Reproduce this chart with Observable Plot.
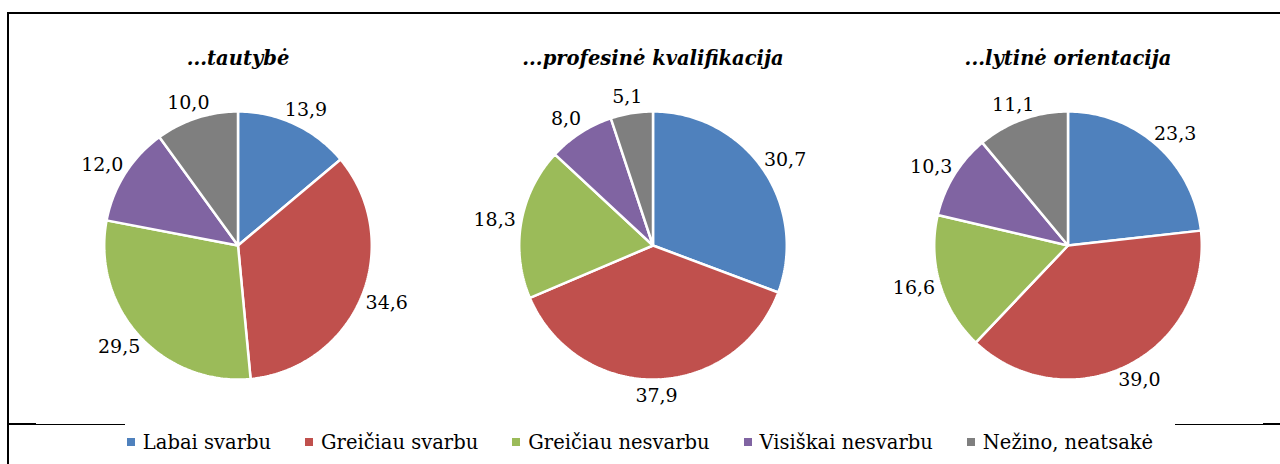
<!DOCTYPE html>
<html>
<head>
<meta charset="utf-8">
<script src="https://cdn.jsdelivr.net/npm/d3@7"></script>
<script src="https://cdn.jsdelivr.net/npm/@observablehq/plot@0.6"></script>
<style>
  html, body { margin: 0; padding: 0; background: #fff; }
  #wrap { position: relative; width: 1280px; height: 464px; overflow: hidden; font-family: "DejaVu Serif", serif; }
  .ln { position: absolute; background: #000; }
  #legend { position: absolute; left: 0; top: 425px; width: 1280px; height: 34px; display: flex; justify-content: center; align-items: center; font-size: 19.5px; color: #000; }
  #legend .item { display: flex; align-items: center; margin: 0 17px; white-space: nowrap; }
  #legend .sw { width: 8px; height: 8px; margin-right: 8px; }
  #chart { position: absolute; left: 0; top: 0; }
</style>
</head>
<body>
<div id="wrap">
  <div id="chart"></div>
  <div class="ln" style="left:7px;top:12px;width:2px;height:452px"></div>
  <div class="ln" style="left:7px;top:12px;width:1273px;height:2px"></div>
  <div class="ln" style="left:7px;top:423px;width:29px;height:2px"></div>
  <div class="ln" style="left:36px;top:424px;width:89px;height:1px"></div>
  <div class="ln" style="left:1175px;top:424px;width:88px;height:1px"></div>
  <div class="ln" style="left:1263px;top:423px;width:17px;height:2px"></div>
  <div id="legend"></div>
</div>
<script>
const categories = ["Labai svarbu", "Greičiau svarbu", "Greičiau nesvarbu", "Visiškai nesvarbu", "Nežino, neatsakė"];
const charts = ["...tautybė", "...profesinė kvalifikacija", "...lytinė orientacija"];
const tautybe = [13.9, 34.6, 29.5, 12.0, 10.0];
const profesine = [30.7, 37.9, 18.3, 8.0, 5.1];
const lytine = [23.3, 39.0, 16.6, 10.3, 11.1];
const colors = ["#4F81BD", "#C0504D", "#9BBB59", "#8064A2", "#7F7F7F"];

const seriesByChart = [tautybe, profesine, lytine];

// Build slice polygons (unit circle, clockwise from 12 o'clock) and label anchors
const slicePts = [];
const labels = [];
const titles = charts.map(c => ({chart: c}));
const R = 1.0;
const pxUnit = 134; // pixels per data unit (for text box estimates)
const gap = 6 / pxUnit, boxW = 42 / pxUnit, boxH = 20 / pxUnit;
seriesByChart.forEach((vals, ci) => {
  const total = d3.sum(vals);
  let cum = 0;
  vals.forEach((v, k) => {
    const a0 = cum / total * 2 * Math.PI;
    const a1 = (cum + v) / total * 2 * Math.PI;
    cum += v;
    const key = charts[ci] + "|" + categories[k];
    const n = Math.max(2, Math.ceil((a1 - a0) / (Math.PI / 180)));
    slicePts.push({chart: charts[ci], cat: categories[k], key, x: 0, y: 0});
    for (let i = 0; i <= n; i++) {
      const a = a0 + (a1 - a0) * i / n;
      slicePts.push({chart: charts[ci], cat: categories[k], key, x: R * Math.sin(a), y: R * Math.cos(a)});
    }
    slicePts.push({chart: charts[ci], cat: categories[k], key, x: 0, y: 0});
    const am = (a0 + a1) / 2;
    const ux = Math.sin(am), uy = Math.cos(am);
    labels.push({
      chart: charts[ci],
      text: v.toFixed(1).replace(".", ","),
      x: (R + gap) * ux + ux * boxW / 2,
      y: (R + gap) * uy + uy * boxH / 2
    });
  });
});

const plot = Plot.plot({
  width: 1280,
  height: 425,
  marginTop: 0,
  marginBottom: 0,
  marginLeft: 29,
  marginRight: 4,
  style: {fontFamily: "DejaVu Serif, serif", background: "transparent"},
  fx: {domain: charts, padding: 0, axis: null},
  x: {domain: [-1.551, 1.551], axis: null},
  y: {domain: [-1.343, 1.828], axis: null},
  color: {domain: categories, range: colors},
  marks: [
    Plot.line(slicePts, {
      fx: "chart", x: "x", y: "y", z: "key", fill: "cat",
      stroke: "white", strokeWidth: 2.5, strokeLinejoin: "miter", curve: "linear"
    }),
    Plot.text(labels, {
      fx: "chart", x: "x", y: "y", text: "text",
      fontSize: 19, fill: "#000", textAnchor: "middle", lineAnchor: "middle"
    }),
    Plot.text(titles, {
      fx: "chart", x: () => 0, y: () => 1.396, text: "chart",
      fontSize: 19.5, fontWeight: "bold", fontStyle: "italic", fill: "#000", lineAnchor: "middle"
    })
  ]
});
document.getElementById("chart").appendChild(plot);

const legend = document.getElementById("legend");
categories.forEach((c, i) => {
  const item = document.createElement("div");
  item.className = "item";
  const sw = document.createElement("span");
  sw.className = "sw";
  sw.style.background = colors[i];
  const t = document.createElement("span");
  t.textContent = c;
  item.appendChild(sw);
  item.appendChild(t);
  legend.appendChild(item);
});
</script>
</body>
</html>
